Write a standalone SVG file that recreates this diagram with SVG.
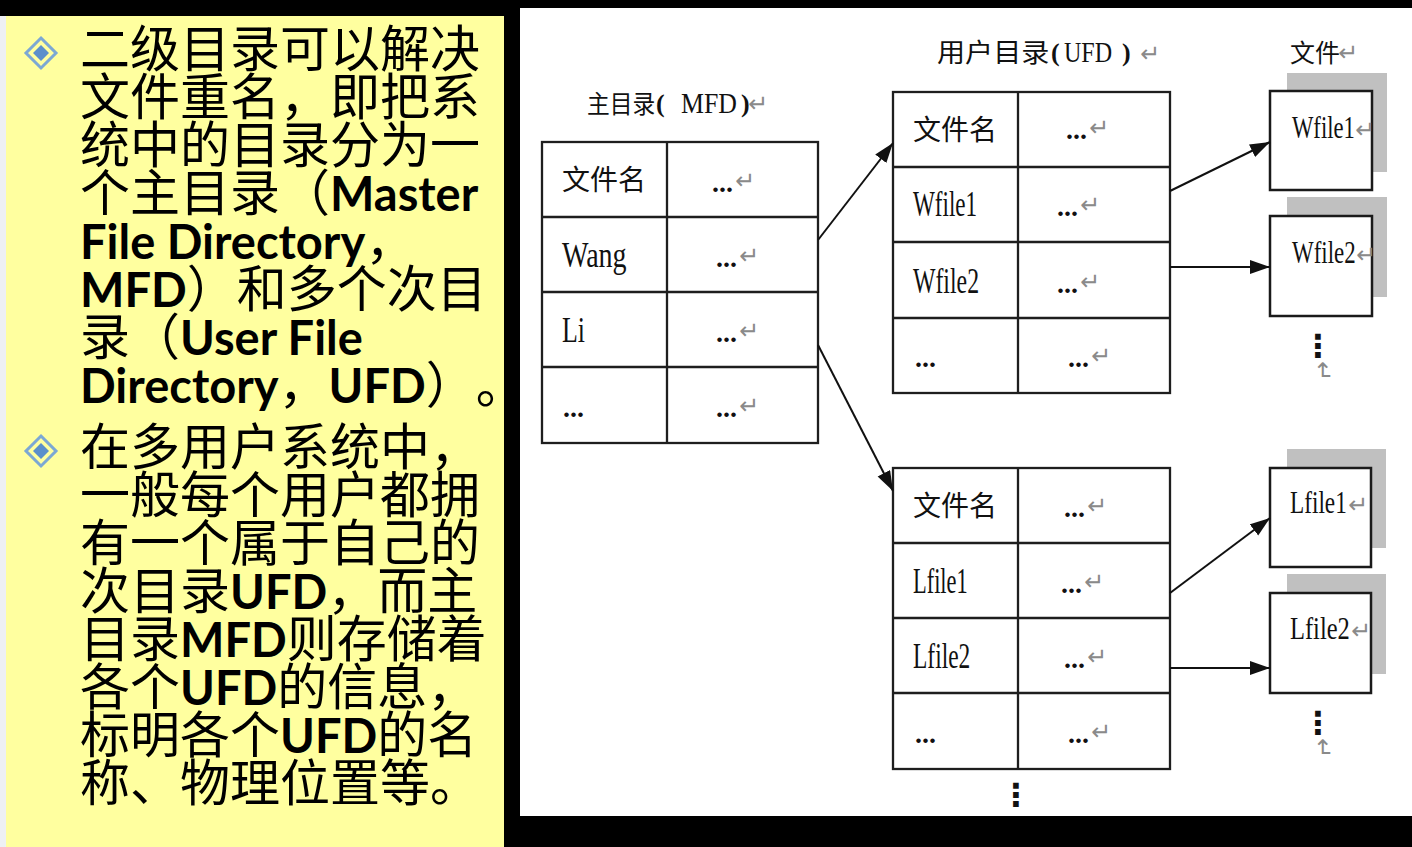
<svg xmlns="http://www.w3.org/2000/svg" width="1412" height="847" viewBox="0 0 1412 847">
<style>
.cn{font-family:"Noto Sans CJK SC",sans-serif;font-size:50px;fill:#000;text-spacing-trim:space-all}
.lb{font-family:Lato,"Noto Sans CJK SC",sans-serif;font-weight:bold;font-size:47px}
.tc{font-family:"Noto Sans CJK SC",sans-serif;fill:#111}
.ts{font-family:"Liberation Serif",serif;fill:#111}
.dots{font-family:"Liberation Serif",serif;font-weight:bold;font-size:28px;fill:#111}
.ret{font-family:"DejaVu Sans",sans-serif;font-size:24px;font-weight:normal;fill:#8a8a8a}
.vd{font-family:"DejaVu Sans",sans-serif;font-weight:bold;font-size:32px;fill:#111;text-anchor:middle}
.tb{fill:#fff;stroke:#1e1e1e;stroke-width:2.3}
.tl{stroke:#1e1e1e;stroke-width:2.3}
.sh{fill:#c0c0c0}
.fb{fill:#fff;stroke:#1a1a1a;stroke-width:2.5}
.cx{stroke:#111;stroke-width:2;fill:none;marker-end:url(#ah)}
</style>
<defs>
<marker id="ah" markerUnits="userSpaceOnUse" markerWidth="22" markerHeight="16" refX="20" refY="7" orient="auto">
<path d="M0,0 L20,7 L0,14 z" fill="#111"/>
</marker>
<g id="bullet">
<path d="M0,-15 L15,0 L0,15 L-15,0 z" fill="none" stroke="#7ca8d4" stroke-width="3"/>
<path d="M0,-8 L8,0 L0,8 L-8,0 z" fill="#5b8fcb"/>
</g>
</defs>
<rect x="0" y="0" width="1412" height="847" fill="#000"/>
<rect x="0" y="16" width="6" height="831" fill="#eef0f4"/>
<rect x="6" y="16" width="498" height="831" fill="#ffff9f"/>
<rect x="520" y="8" width="892" height="808" fill="#fff"/>

<g id="text-left">
<use href="#bullet" x="41" y="53"/>
<use href="#bullet" x="41" y="451"/>
<text class="cn" x="80" y="67">二级目录可以解决</text>
<text class="cn" x="80" y="115">文件重名，即把系</text>
<text class="cn" x="80" y="163">统中的目录分为一</text>
<text class="cn" x="80" y="211">个主目录（<tspan class="lb">Master</tspan></text>
<text class="cn" x="80" y="259"><tspan class="lb">File Directory</tspan>，</text>
<text class="cn" x="80" y="307"><tspan class="lb">MFD</tspan>）和多个次目</text>
<text class="cn" x="80" y="355">录（<tspan class="lb">User File</tspan></text>
<text class="cn" x="80" y="403"><tspan class="lb">Directory</tspan>，<tspan class="lb">UFD</tspan>）。</text>
<text class="cn" x="80" y="465">在多用户系统中，</text>
<text class="cn" x="80" y="513">一般每个用户都拥</text>
<text class="cn" x="80" y="561">有一个属于自己的</text>
<text class="cn" x="80" y="609">次目录<tspan class="lb">UFD</tspan>，而主</text>
<text class="cn" x="80" y="657">目录<tspan class="lb">MFD</tspan>则存储着</text>
<text class="cn" x="80" y="705">各个<tspan class="lb">UFD</tspan>的信息，</text>
<text class="cn" x="80" y="753">标明各个<tspan class="lb">UFD</tspan>的名</text>
<text class="cn" x="80" y="801">称、物理位置等。</text>
</g>

<g id="titles">
<text class="tc" font-size="25" transform="translate(587,113) scale(0.91,1)">主目录</text>
<text class="ts" x="656" y="112" font-size="26" font-weight="bold">(</text>
<text class="ts" font-size="29" transform="translate(681,113) scale(0.89,1)">MFD</text>
<text class="ts" x="741" y="112" font-size="26" font-weight="bold">)</text>
<text class="ret" x="748" y="112">↵</text>
<text class="tc" font-size="26" transform="translate(937,62) scale(1.08,1)">用户目录</text>
<text class="ts" x="1051" y="61" font-size="26" font-weight="bold">(</text>
<text class="ts" font-size="29" transform="translate(1064,62) scale(0.83,1)">UFD</text>
<text class="ts" x="1122" y="61" font-size="26" font-weight="bold">)</text>
<text class="ret" x="1140" y="62">↵</text>
<text class="tc" x="1290" y="62" font-size="25">文件</text>
<text class="ret" x="1338" y="61">↵</text>
</g>

<g id="mfd">
<rect class="tb" x="542" y="142" width="276" height="301"/>
<path class="tl" d="M667,142 V443 M542,217 H818 M542,292 H818 M542,367 H818"/>
<text class="tc" x="562" y="190" font-size="28">文件名</text>
<text class="ts" font-size="35" transform="translate(562,267) scale(0.8,1)">Wang</text>
<text class="ts" font-size="35" transform="translate(562,342) scale(0.74,1)">Li</text>
<text class="dots" x="563" y="417">...</text>
<text class="dots" x="712" y="192">...</text><text class="ret" x="735" y="189">↵</text>
<text class="dots" x="716" y="267">...</text><text class="ret" x="739" y="264">↵</text>
<text class="dots" x="716" y="342">...</text><text class="ret" x="739" y="339">↵</text>
<text class="dots" x="716" y="417">...</text><text class="ret" x="739" y="414">↵</text>
</g>

<g id="ufd-wang">
<rect class="tb" x="893" y="92" width="277" height="301"/>
<path class="tl" d="M1018,92 V393 M893,167 H1170 M893,242 H1170 M893,318 H1170"/>
<text class="tc" x="913" y="140" font-size="28">文件名</text>
<text class="ts" font-size="35" transform="translate(913,216) scale(0.66,1)">Wfile1</text>
<text class="ts" font-size="35" transform="translate(913,293) scale(0.68,1)">Wfile2</text>
<text class="dots" x="915" y="367">...</text>
<text class="dots" x="1066" y="139">...</text><text class="ret" x="1089" y="136">↵</text>
<text class="dots" x="1057" y="216">...</text><text class="ret" x="1080" y="213">↵</text>
<text class="dots" x="1057" y="293">...</text><text class="ret" x="1080" y="290">↵</text>
<text class="dots" x="1068" y="367">...</text><text class="ret" x="1091" y="364">↵</text>
</g>

<g id="ufd-li">
<rect class="tb" x="893" y="468" width="277" height="301"/>
<path class="tl" d="M1018,468 V769 M893,543 H1170 M893,618 H1170 M893,693 H1170"/>
<text class="tc" x="913" y="516" font-size="28">文件名</text>
<text class="ts" font-size="35" transform="translate(913,593) scale(0.64,1)">Lfile1</text>
<text class="ts" font-size="35" transform="translate(913,668) scale(0.67,1)">Lfile2</text>
<text class="dots" x="915" y="743">...</text>
<text class="dots" x="1064" y="517">...</text><text class="ret" x="1087" y="514">↵</text>
<text class="dots" x="1061" y="593">...</text><text class="ret" x="1084" y="590">↵</text>
<text class="dots" x="1064" y="668">...</text><text class="ret" x="1087" y="665">↵</text>
<text class="dots" x="1068" y="743">...</text><text class="ret" x="1091" y="740">↵</text>
<text class="vd" x="1016" y="806">⋮</text>
</g>

<g id="file-wfile1">
<rect class="sh" x="1287" y="73" width="100" height="99"/>
<rect class="fb" x="1270" y="91" width="102" height="99"/>
<text class="ts" font-size="31" transform="translate(1292,138) scale(0.73,1)">Wfile1</text>
<text class="ret" x="1355" y="138">↵</text>
</g>
<g id="file-wfile2">
<rect class="sh" x="1287" y="197" width="100" height="100"/>
<rect class="fb" x="1270" y="216" width="102" height="100"/>
<text class="ts" font-size="31" transform="translate(1292,263) scale(0.74,1)">Wfile2</text>
<text class="ret" x="1356" y="263">↵</text>
</g>
<g id="more-wfiles">
<text class="vd" x="1318" y="357">⋮</text>
<text class="ret" transform="translate(1315,361) rotate(90)">↵</text>
</g>
<g id="file-lfile1">
<rect class="sh" x="1287" y="449" width="99" height="99"/>
<rect class="fb" x="1270" y="468" width="101" height="99"/>
<text class="ts" font-size="31" transform="translate(1290,513) scale(0.75,1)">Lfile1</text>
<text class="ret" x="1348" y="513">↵</text>
</g>
<g id="file-lfile2">
<rect class="sh" x="1287" y="574" width="99" height="100"/>
<rect class="fb" x="1270" y="593" width="101" height="100"/>
<text class="ts" font-size="31" transform="translate(1290,639) scale(0.79,1)">Lfile2</text>
<text class="ret" x="1351" y="639">↵</text>
</g>
<g id="more-lfiles">
<text class="vd" x="1318" y="734">⋮</text>
<text class="ret" transform="translate(1315,738) rotate(90)">↵</text>
</g>

<g id="connectors">
<path class="cx" d="M818,240 L893,143"/>
<path class="cx" d="M818,345 L893,491"/>
<path class="cx" d="M1170,191 L1270,142"/>
<path class="cx" d="M1170,267 L1270,267"/>
<path class="cx" d="M1170,593 L1270,518"/>
<path class="cx" d="M1170,668 L1270,668"/>
</g>
</svg>
